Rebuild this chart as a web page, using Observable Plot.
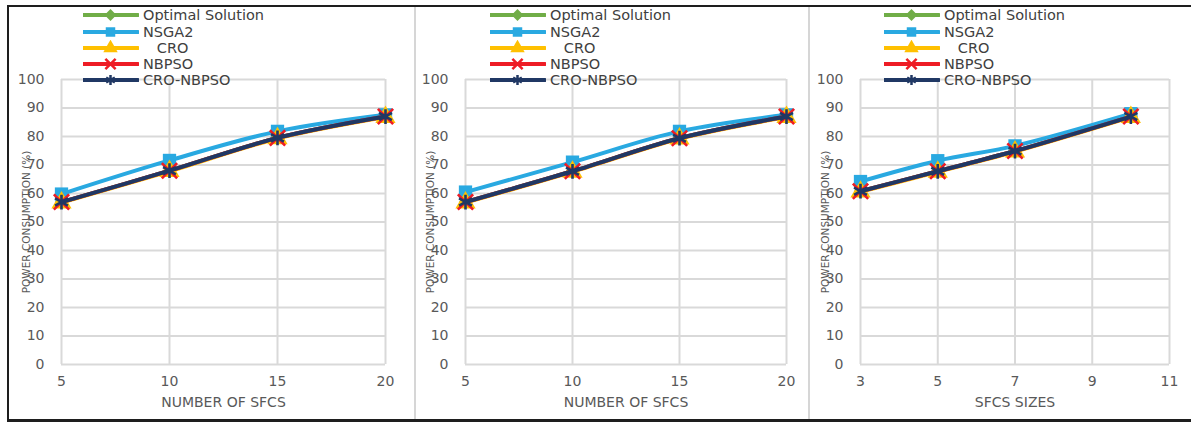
<!DOCTYPE html>
<html>
<head>
<meta charset="utf-8">
<script src="https://cdn.jsdelivr.net/npm/d3@7"></script>
<script src="https://cdn.jsdelivr.net/npm/@observablehq/plot@0.6"></script>
<style>
  html, body { margin: 0; padding: 0; background: #fff; }
  #root { position: relative; width: 1191px; height: 424px; overflow: hidden; font-family: "DejaVu Sans", sans-serif; }
  .rule { position: absolute; }
  .panel { position: absolute; top: 6px; }
  .legend { position: absolute; top: 0; }
  .legend-row { position: absolute; left: 0; height: 16px; display: flex; align-items: center; white-space: pre; }
  .legend-row span { font-size: 14.5px; color: #404040; margin-left: 4px; }
</style>
</head>
<body>
<div id="root"></div>
<script>
// Algorithms compared
const seriesNames = ["Optimal Solution", "NSGA2", "CRO", "NBPSO", "CRO-NBPSO"];
const seriesColors = ["#70AD47", "#29A9E1", "#FFC000", "#EE1C25", "#203864"];
const seriesSymbols = ["diamond2", "square", "triangle", "times", "asterisk"];
const legendLabels = ["Optimal Solution", "NSGA2", "   CRO", "NBPSO", "CRO-NBPSO"];

// Power consumption (%) vs. number of SFCs — first scenario
const sfcCounts = [5, 10, 15, 20];
const optimalA  = [57.0, 68.0, 79.5, 87.0];
const nsga2A    = [59.8, 71.6, 81.8, 87.6];
const croA      = [56.8, 67.8, 79.3, 86.8];
const nbpsoA    = [57.0, 68.0, 79.5, 87.0];
const croNbpsoA = [57.0, 68.0, 79.5, 87.0];

// Power consumption (%) vs. number of SFCs — second scenario
const optimalB  = [57.0, 67.8, 79.4, 87.0];
const nsga2B    = [60.5, 71.0, 81.8, 87.6];
const croB      = [56.8, 67.6, 79.2, 86.8];
const nbpsoB    = [57.0, 67.8, 79.4, 87.0];
const croNbpsoB = [57.0, 67.8, 79.4, 87.0];

// Power consumption (%) vs. SFC size
const sfcSizes  = [3, 5, 7, 10];
const optimalC  = [60.8, 67.8, 74.9, 87.0];
const nsga2C    = [64.2, 71.5, 76.7, 88.0];
const croC      = [60.6, 67.6, 74.7, 86.8];
const nbpsoC    = [60.8, 67.8, 74.9, 87.0];
const croNbpsoC = [60.8, 67.8, 74.9, 87.0];

const yTicks = [0, 10, 20, 30, 40, 50, 60, 70, 80, 90, 100];
const countTicks = [5, 10, 15, 20];
const sizeTicks = [3, 5, 7, 9, 11];
const yTitle = "POWER CONSUMPTION (%)";

const panels = [
  {left: 9,   width: 406, ml: 52, mr: 30, xs: sfcCounts, domain: [5, 20], ticks: countTicks,
   title: "NUMBER OF SFCS", values: [optimalA, nsga2A, croA, nbpsoA, croNbpsoA]},
  {left: 416, width: 393, ml: 49, mr: 23, xs: sfcCounts, domain: [5, 20], ticks: countTicks,
   title: "NUMBER OF SFCS", values: [optimalB, nsga2B, croB, nbpsoB, croNbpsoB]},
  {left: 810, width: 381, ml: 50, mr: 22, xs: sfcSizes, domain: [3, 11], ticks: sizeTicks,
   title: "SFCS SIZES", values: [optimalC, nsga2C, croC, nbpsoC, croNbpsoC]}
];

const root = document.getElementById("root");

function rule(x, y, w, h, color) {
  const d = document.createElement("div");
  d.className = "rule";
  Object.assign(d.style, {left: x + "px", top: y + "px", width: w + "px", height: h + "px", background: color});
  root.appendChild(d);
}

// Outer frame and panel separators
rule(7, 5, 1184, 2, "#1e1e1e");
rule(7, 5, 2, 417, "#1e1e1e");
rule(7, 419, 1184, 3, "#1e1e1e");
rule(414, 7, 2, 412, "#d6d6d6");
rule(808, 7, 2, 412, "#d6d6d6");

const markerStroke = s => s === "times" || s === "asterisk";

panels.forEach(p => {
  const data = seriesNames.flatMap((name, i) =>
    p.xs.map((x, j) => ({series: name, x, y: p.values[i][j]})));

  // Each series draws its line, then its markers, so later series sit on top
  const seriesMarks = seriesNames.flatMap((name, i) => {
    const rows = data.filter(d => d.series === name);
    const sym = seriesSymbols[i];
    const stroked = markerStroke(sym);
    return [
      Plot.line(rows, {x: "x", y: "y", stroke: seriesColors[i], strokeWidth: 4, curve: "catmull-rom"}),
      Plot.dot(rows, stroked
        ? {x: "x", y: "y", symbol: () => sym, stroke: seriesColors[i], strokeWidth: 2.6, r: 7}
        : {x: "x", y: "y", symbol: () => sym, fill: seriesColors[i], stroke: "none",
           r: sym === "square" ? 7.5 : sym === "triangle" ? 7.5 : 6})
    ];
  });

  const chart = Plot.plot({
    width: p.width,
    height: 415,
    marginLeft: p.ml,
    marginRight: p.mr,
    marginTop: 73,
    marginBottom: 57,
    x: {domain: p.domain},
    y: {domain: [0, 100]},
    symbol: {domain: seriesSymbols, range: seriesSymbols},
    style: {fontFamily: "DejaVu Sans", fontSize: "14px", color: "#595959", background: "transparent", overflow: "visible"},
    marks: [
      Plot.gridY(yTicks, {stroke: "#d9d9d9", strokeOpacity: 1, strokeWidth: 2}),
      Plot.gridX(p.ticks, {stroke: "#d9d9d9", strokeOpacity: 1, strokeWidth: 2}),
      Plot.axisY(yTicks, {tickSize: 0, tickPadding: 17, label: null, fontSize: 14}),
      Plot.axisX(p.ticks, {tickSize: 0, tickPadding: 12, label: null, fontSize: 14}),
      Plot.text([yTitle], {text: d => d, frameAnchor: "left", textAnchor: "middle", rotate: -90, dx: -35, fontSize: 10.5, fill: "#595959"}),
      Plot.text([p.title], {text: d => d, frameAnchor: "bottom", dy: 42, fontSize: 14, fill: "#595959"}),
      ...seriesMarks
    ]
  });

  const wrap = document.createElement("div");
  wrap.className = "panel";
  wrap.style.left = p.left + "px";
  wrap.appendChild(chart);
  root.appendChild(wrap);

  // Legend: line sample with marker, then label
  const legend = document.createElement("div");
  legend.className = "legend";
  legend.style.left = (p.left + 74) + "px";
  const rowCenters = [15, 31.5, 47.5, 63.5, 80];
  seriesNames.forEach((name, i) => {
    const row = document.createElement("div");
    row.className = "legend-row";
    row.style.top = (rowCenters[i] - 8) + "px";
    const svg = d3.create("svg").attr("width", 56).attr("height", 16);
    svg.append("line").attr("x1", 0).attr("x2", 55).attr("y1", 8).attr("y2", 8)
      .attr("stroke", seriesColors[i]).attr("stroke-width", 4).attr("stroke-linecap", "round");
    const sym = seriesSymbols[i];
    const symType = {diamond2: d3.symbolDiamond2, square: d3.symbolSquare, triangle: d3.symbolTriangle,
                     times: d3.symbolTimes, asterisk: d3.symbolAsterisk}[sym];
    const path = svg.append("path").attr("transform", "translate(27.5,8)")
      .attr("d", d3.symbol(symType, markerStroke(sym) ? 70 : 90)());
    if (markerStroke(sym)) path.attr("fill", "none").attr("stroke", seriesColors[i]).attr("stroke-width", 2.5);
    else path.attr("fill", seriesColors[i]);
    row.appendChild(svg.node());
    const label = document.createElement("span");
    label.textContent = legendLabels[i];
    row.appendChild(label);
    legend.appendChild(row);
  });
  root.appendChild(legend);
});
</script>
</body>
</html>
